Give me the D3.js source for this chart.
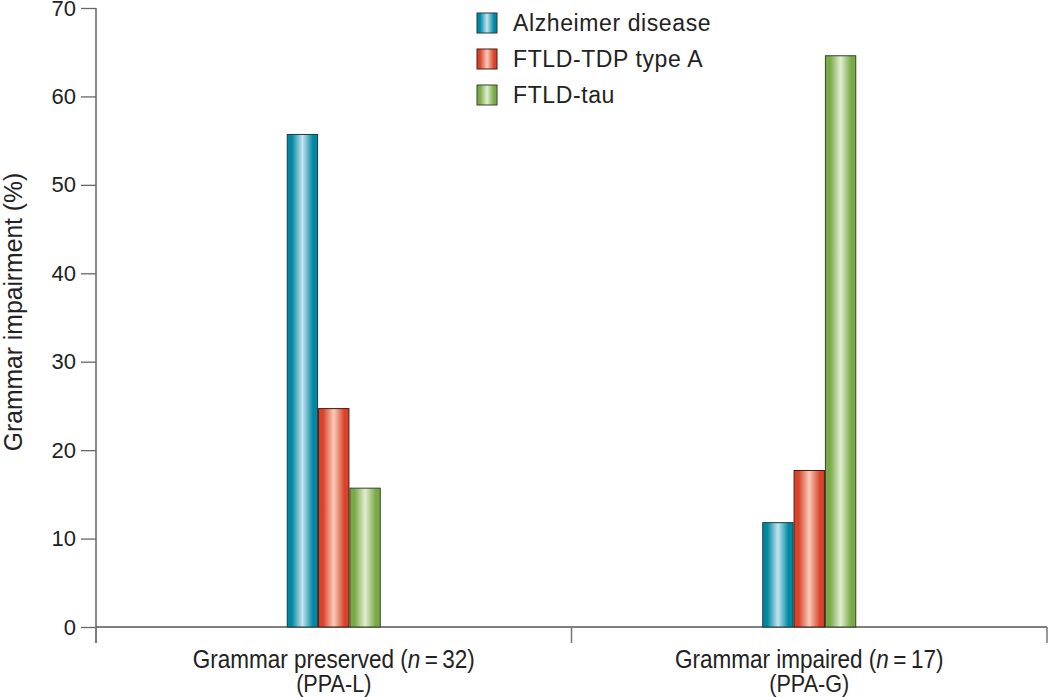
<!DOCTYPE html>
<html>
<head>
<meta charset="utf-8">
<script src="https://cdn.jsdelivr.net/npm/d3@7"></script>
<style>
  body { margin: 0; background: #fff; }
  svg { display: block; }
</style>
</head>
<body>
<svg id="chart" width="1050" height="697"></svg>
<script>
const categories = ["Grammar preserved", "Grammar impaired"];
const categoryN = ["32", "17"];
const categorySub = ["(PPA-L)", "(PPA-G)"];
const seriesNames = ["Alzheimer disease", "FTLD-TDP type A", "FTLD-tau"];
const alzheimer = [55.7, 11.8];
const tdpA = [24.7, 17.7];
const tau = [15.7, 64.6];
const yTicks = [0, 10, 20, 30, 40, 50, 60, 70];

const seriesValues = [alzheimer, tdpA, tau];
const colors = [
  { edge: "#0088a3", mid: "#c4e4ee", stroke: "#1f3a44" },
  { edge: "#d9432a", mid: "#f8cdb9", stroke: "#4a1a12" },
  { edge: "#78aa46", mid: "#e2eed2", stroke: "#33442a" }
];

const svg = d3.select("#chart");
const margin = { left: 96, right: 2, top: 8, bottom: 70 };
const W = 1050, H = 697;
const x0 = margin.left, x1 = W - margin.right - 1;
const yBase = 627;

const x = d3.scaleBand().domain(categories).range([x0, x1]).padding(0);
const y = d3.scaleLinear().domain([0, 70]).range([yBase, margin.top]);
const xs = d3.scaleBand().domain(d3.range(seriesNames.length)).range([0, 94]).padding(0);

const defs = svg.append("defs");
colors.forEach((c, i) => {
  const g = defs.append("linearGradient").attr("id", "grad" + i)
    .attr("x1", "0%").attr("x2", "100%").attr("y1", "0%").attr("y2", "0%");
  g.append("stop").attr("offset", "0%").attr("stop-color", c.edge);
  g.append("stop").attr("offset", "15%").attr("stop-color", c.edge);
  g.append("stop").attr("offset", "50%").attr("stop-color", c.mid);
  g.append("stop").attr("offset", "85%").attr("stop-color", c.edge);
  g.append("stop").attr("offset", "100%").attr("stop-color", c.edge);
});

// Y axis
const yAxis = svg.append("g").attr("transform", `translate(${x0},0)`)
  .call(d3.axisLeft(y).tickValues(yTicks).tickSize(15).tickPadding(5));
yAxis.select(".domain").remove();
yAxis.selectAll(".tick line").attr("stroke", "#666").attr("stroke-width", 1.3);
yAxis.selectAll(".tick text").attr("font-family", "Liberation Sans, Arial, sans-serif")
  .attr("font-size", 22).attr("fill", "#222");
svg.append("line").attr("x1", x0).attr("x2", x0).attr("y1", margin.top).attr("y2", yBase + 16)
  .attr("stroke", "#666").attr("stroke-width", 1.5);

// X axis
svg.append("line").attr("x1", x0).attr("x2", x1).attr("y1", yBase).attr("y2", yBase)
  .attr("stroke", "#555").attr("stroke-width", 1.5);
const xBounds = [x0, x0 + x.bandwidth(), x1];
svg.selectAll(".xtick").data(xBounds).enter().append("line")
  .attr("x1", d => d).attr("x2", d => d).attr("y1", yBase).attr("y2", yBase + 16)
  .attr("stroke", "#777").attr("stroke-width", 1.5);

// Bars
const groups = svg.selectAll(".grp").data(categories).enter().append("g")
  .attr("transform", d => `translate(${x(d) + x.bandwidth() / 2 - 47},0)`);
groups.each(function(cat, ci) {
  d3.select(this).selectAll("rect").data(seriesValues.map((s, si) => ({ si, v: s[ci] })))
    .enter().append("rect")
    .attr("x", d => xs(d.si) + 0.5)
    .attr("width", xs.bandwidth() - 1)
    .attr("y", d => y(d.v))
    .attr("height", d => yBase - y(d.v))
    .attr("fill", d => `url(#grad${d.si})`)
    .attr("stroke", d => colors[d.si].stroke)
    .attr("stroke-width", 1);
});

// Category labels (condensed look via horizontal scaling)
const labelFont = "'Liberation Sans', Arial, sans-serif";
categories.forEach((c, i) => {
  const cx = x(c) + x.bandwidth() / 2;
  const t = svg.append("text").attr("transform", `translate(${cx},668) scale(0.9,1)`)
    .attr("text-anchor", "middle")
    .attr("font-family", labelFont).attr("font-size", 25).attr("fill", "#222");
  t.append("tspan").text(c + " (");
  t.append("tspan").attr("font-style", "italic").text("n");
  t.append("tspan").text("\u2009=\u2009" + categoryN[i] + ")");
  svg.append("text").attr("transform", `translate(${cx},692) scale(0.9,1)`)
    .attr("text-anchor", "middle")
    .attr("font-family", labelFont).attr("font-size", 24).attr("fill", "#222")
    .text(categorySub[i]);
});

// Y label
svg.append("text").attr("transform", "translate(22,312) rotate(-90) scale(0.95,1)")
  .attr("text-anchor", "middle").attr("font-family", labelFont)
  .attr("font-size", 26).attr("fill", "#222").text("Grammar impairment (%)");

// Legend
const leg = svg.append("g").attr("transform", "translate(477,13)");
seriesNames.forEach((n, i) => {
  const g = leg.append("g").attr("transform", `translate(0,${i * 36})`);
  g.append("rect").attr("width", 20).attr("height", 20)
    .attr("fill", `url(#grad${i})`).attr("stroke", colors[i].stroke).attr("stroke-width", 1);
  g.append("text").attr("x", 36).attr("y", 18)
    .attr("font-family", "Liberation Sans, Arial, sans-serif").attr("font-size", 23)
    .attr("letter-spacing", 0.6)
    .attr("fill", "#222").text(n);
});
</script>
</body>
</html>
